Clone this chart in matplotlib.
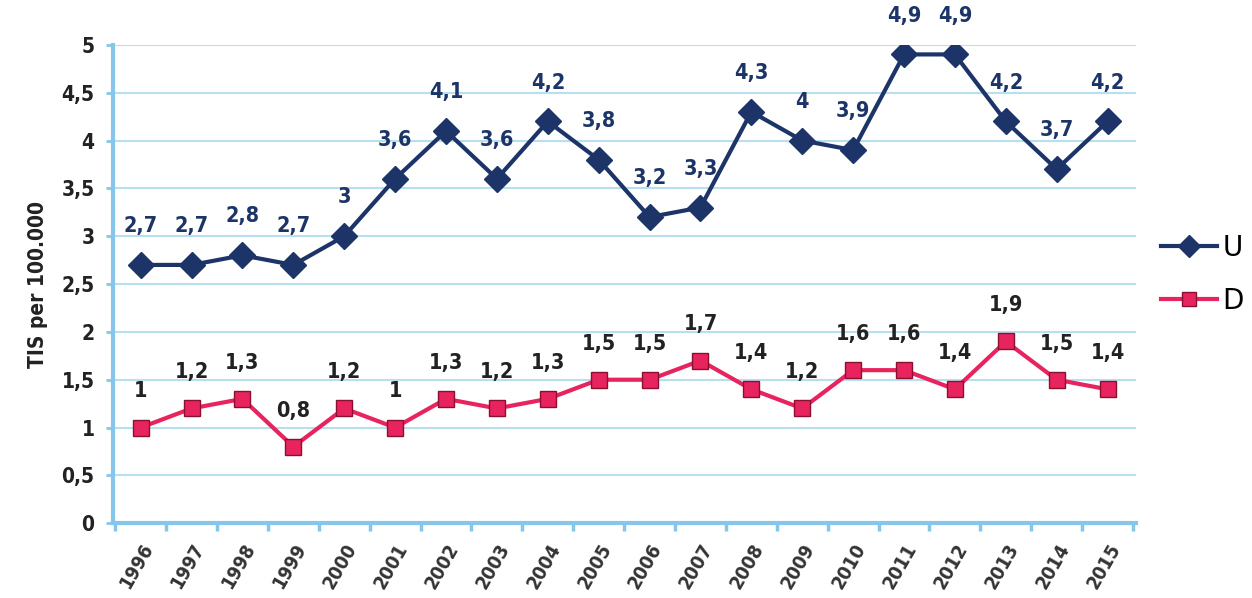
import numpy as np
import matplotlib
matplotlib.use("Agg")
from matplotlib import pyplot as plt
from matplotlib import font_manager as fm

years = [str(y) for y in range(1996, 2016)]
u_vals = [2.7, 2.7, 2.8, 2.7, 3.0, 3.6, 4.1, 3.6, 4.2, 3.8, 3.2, 3.3, 4.3, 4.0, 3.9, 4.9, 4.9, 4.2, 3.7, 4.2]
d_vals = [1.0, 1.2, 1.3, 0.8, 1.2, 1.0, 1.3, 1.2, 1.3, 1.5, 1.5, 1.7, 1.4, 1.2, 1.6, 1.6, 1.4, 1.9, 1.5, 1.4]
yticks = [0, 0.5, 1, 1.5, 2, 2.5, 3, 3.5, 4, 4.5, 5]

names = set(f.name for f in fm.fontManager.ttflist)
fam = ['Liberation Sans Narrow', 'DejaVu Sans'] if 'Liberation Sans Narrow' in names else ['DejaVu Sans']
navy = '#1c3468'
pink = '#e8245f'
axcol = '#86c6ea'
bold = dict(fontweight='bold', family=fam, fontstretch='condensed')

fig = plt.figure(figsize=(12.52, 5.98), dpi=100)
ax = fig.add_axes([0.090, 0.125, 0.817, 0.80])
x = np.arange(len(years))

ax.plot(x, u_vals, color=navy, lw=3, marker='D', ms=13, mec=navy, mfc=navy, label='U', zorder=3)
ax.plot(x, d_vals, color=pink, lw=3, marker='s', ms=12, mec='#8a1030', mfc=pink, label='D', zorder=3)

def fmt(v):
    return ('%g' % v).replace('.', ',')

for xi, v in zip(x, u_vals):
    ax.annotate(fmt(v), (xi, v), xytext=(0, 28), textcoords='offset points',
                ha='center', va='center', color=navy, fontsize=15.5, **bold)
for xi, v in zip(x, d_vals):
    ax.annotate(fmt(v), (xi, v), xytext=(0, 26), textcoords='offset points',
                ha='center', va='center', color='#222222', fontsize=15.5, **bold)

ax.set_xlim(-0.55, len(years) - 0.45)
ax.set_ylim(0, 5)
ax.set_yticks(yticks)
ax.set_yticklabels([fmt(t) for t in yticks], fontsize=15, color='#222222', **bold)
ax.set_xticks(x)
ax.set_xticklabels(years, rotation=60, ha='right', rotation_mode='anchor',
                   fontsize=14, color='#333333', **bold)
ax.set_xticks(np.arange(-0.5, len(years), 1), minor=True)
ax.tick_params(axis='x', which='major', length=0, pad=12)
ax.tick_params(axis='x', which='minor', length=6, width=2.5, color=axcol)
ax.tick_params(axis='y', length=5, width=2, color=axcol, pad=8)

ax.grid(axis='y', color='#b6e0f2', lw=1.5)
ax.set_axisbelow(True)
for s in ['top', 'right']:
    ax.spines[s].set_visible(False)
ax.spines['left'].set_color(axcol)
ax.spines['left'].set_linewidth(3)
ax.spines['bottom'].set_color(axcol)
ax.spines['bottom'].set_linewidth(3)

ax.set_ylabel('TIS per 100.000', fontsize=15, color='#222222', labelpad=10, **bold)

leg = ax.legend(loc='center left', bbox_to_anchor=(1.025, 0.52), frameon=False, borderaxespad=0,
                borderpad=0, prop={'family': fam, 'size': 20}, handlelength=2.0,
                labelspacing=0.9, handletextpad=0.2, markerscale=0.85)

fig.savefig('out.png', dpi=100)
